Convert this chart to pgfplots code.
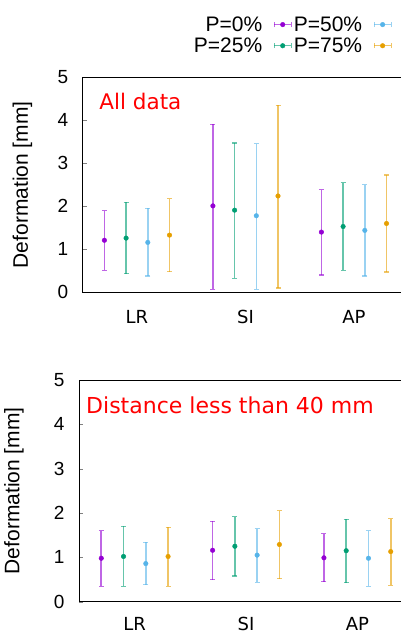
\documentclass[border=0pt]{standalone}
\usepackage{pgfplots}
\pgfplotsset{compat=1.18}
\usepackage{pgfplotstable}
\usepackage{fontspec}
\setmainfont{Liberation Sans}
\newfontfamily\dejavu{DejaVu Sans}
\definecolor{c0}{HTML}{9400D3}
\definecolor{c25}{HTML}{009E73}
\definecolor{c50}{HTML}{56B4E9}
\definecolor{c75}{HTML}{E69F00}

\pgfplotstableread{
x m0 l0 h0 m25 l25 h25 m50 l50 h50 m75 l75 h75
1 1.21 0.51 1.90 1.26 0.43 2.09 1.16 0.38 1.95 1.33 0.48 2.18
2 2.01 0.07 3.91 1.91 0.33 3.47 1.78 0.07 3.46 2.24 0.10 4.35
3 1.40 0.40 2.39 1.53 0.51 2.55 1.44 0.38 2.50 1.60 0.47 2.73
}\alldata
\pgfplotstableread{
x m0 l0 h0 m25 l25 h25 m50 l50 h50 m75 l75 h75
1 0.98 0.35 1.60 1.02 0.35 1.70 0.86 0.38 1.34 1.02 0.35 1.68
2 1.16 0.50 1.81 1.25 0.58 1.92 1.05 0.44 1.65 1.29 0.52 2.05
3 0.99 0.45 1.53 1.15 0.43 1.86 0.98 0.35 1.60 1.13 0.37 1.87
}\neardata

\pgfplotsset{
 dstyle/.style={
  scale only axis, xmin=0.5, xmax=3.5, ymin=0, ymax=5,
  xtick={1,2,3}, xticklabels={LR,SI,AP}, ytick={0,1,2,3,4,5},
  tick align=inside, ytick pos=left, xtick pos=bottom,
  major x tick style={draw=none}, major tick length=4pt,
  yticklabel style={font=\fontsize{19}{19}\selectfont, xshift=-11pt},
  xticklabel style={font=\dejavu\fontsize{18}{18}\selectfont, inner sep=0pt, text depth=0pt},
  /pgf/number format/assume math mode=true,
  ylabel={Deformation [mm]},
  ylabel style={font=\fontsize{21}{21}\selectfont},
  axis line style={line width=0.8pt},
  clip=false,
 },
 ser/.style={only marks, mark=*, mark size=2.3pt, color=#1,
  error bars/y dir=both, error bars/y explicit,
  error bars/error bar style={line width=1.6pt, draw=#1, opacity=0.6},
  error bars/error mark options={rotate=90, mark size=2.5pt, line width=1.2pt, draw=#1, opacity=0.6}},
}

\begin{document}
\begin{tikzpicture}
\path[use as bounding box] (0,0) rectangle (400pt,634pt);
\begin{axis}[dstyle, at={(82.7pt,341.7pt)}, anchor=south west, width=325.5pt, height=215pt,
  xticklabel style={yshift=-18pt},
  ylabel style={at={(axis description cs:-0.185,0.5)}, anchor=center},
  legend columns=2, transpose legend, legend plot pos=right, legend cell align=right,
  legend style={at={(0.95,1.293)}, anchor=north east, draw=none, fill=none,
    font=\fontsize{21}{21}\selectfont, row sep=1pt, column sep=0pt, inner sep=0pt},
  legend image code/.code={
    \path[draw=none, fill=none] (0pt,0pt) rectangle (27pt,0.1pt);
    \draw[line width=1.2pt, opacity=0.6] (10pt,0pt) -- (27pt,0pt);
    \draw[line width=1.2pt, opacity=0.6] (10pt,-2.5pt) -- (10pt,2.5pt) (27pt,-2.5pt) -- (27pt,2.5pt);
    \fill (18.5pt,0pt) circle (2.3pt);}]
\addplot[ser=c0] table[x expr=\thisrow{x}-0.3, y=m0, y error plus expr=\thisrow{h0}-\thisrow{m0}, y error minus expr=\thisrow{m0}-\thisrow{l0}] {\alldata};
\addlegendentry{P=0\%}
\addplot[ser=c25] table[x expr=\thisrow{x}-0.1, y=m25, y error plus expr=\thisrow{h25}-\thisrow{m25}, y error minus expr=\thisrow{m25}-\thisrow{l25}] {\alldata};
\addlegendentry{P=25\%}
\addplot[ser=c50] table[x expr=\thisrow{x}+0.1, y=m50, y error plus expr=\thisrow{h50}-\thisrow{m50}, y error minus expr=\thisrow{m50}-\thisrow{l50}] {\alldata};
\addlegendentry{P=50\%}
\addplot[ser=c75] table[x expr=\thisrow{x}+0.3, y=m75, y error plus expr=\thisrow{h75}-\thisrow{m75}, y error minus expr=\thisrow{m75}-\thisrow{l75}] {\alldata};
\addlegendentry{P=75\%}
\node[anchor=west, inner sep=0pt, text=red, font=\dejavu\fontsize{21.5}{21.5}\selectfont] at (rel axis cs:0.051,0.886) {All data};
\end{axis}

\begin{axis}[dstyle, at={(79pt,32.3pt)}, anchor=south west, width=334pt, height=221.7pt,
  xticklabel style={yshift=-15pt},
  ylabel style={at={(axis description cs:-0.195,0.5)}, anchor=center}]
\addplot[ser=c0] table[x expr=\thisrow{x}-0.3, y=m0, y error plus expr=\thisrow{h0}-\thisrow{m0}, y error minus expr=\thisrow{m0}-\thisrow{l0}] {\neardata};
\addplot[ser=c25] table[x expr=\thisrow{x}-0.1, y=m25, y error plus expr=\thisrow{h25}-\thisrow{m25}, y error minus expr=\thisrow{m25}-\thisrow{l25}] {\neardata};
\addplot[ser=c50] table[x expr=\thisrow{x}+0.1, y=m50, y error plus expr=\thisrow{h50}-\thisrow{m50}, y error minus expr=\thisrow{m50}-\thisrow{l50}] {\neardata};
\addplot[ser=c75] table[x expr=\thisrow{x}+0.3, y=m75, y error plus expr=\thisrow{h75}-\thisrow{m75}, y error minus expr=\thisrow{m75}-\thisrow{l75}] {\neardata};
\node[anchor=west, inner sep=0pt, text=red, font=\dejavu\fontsize{22}{22}\selectfont] at (rel axis cs:0.021,0.887) {Distance less than 40 mm};
\end{axis}
\end{tikzpicture}
\end{document}
